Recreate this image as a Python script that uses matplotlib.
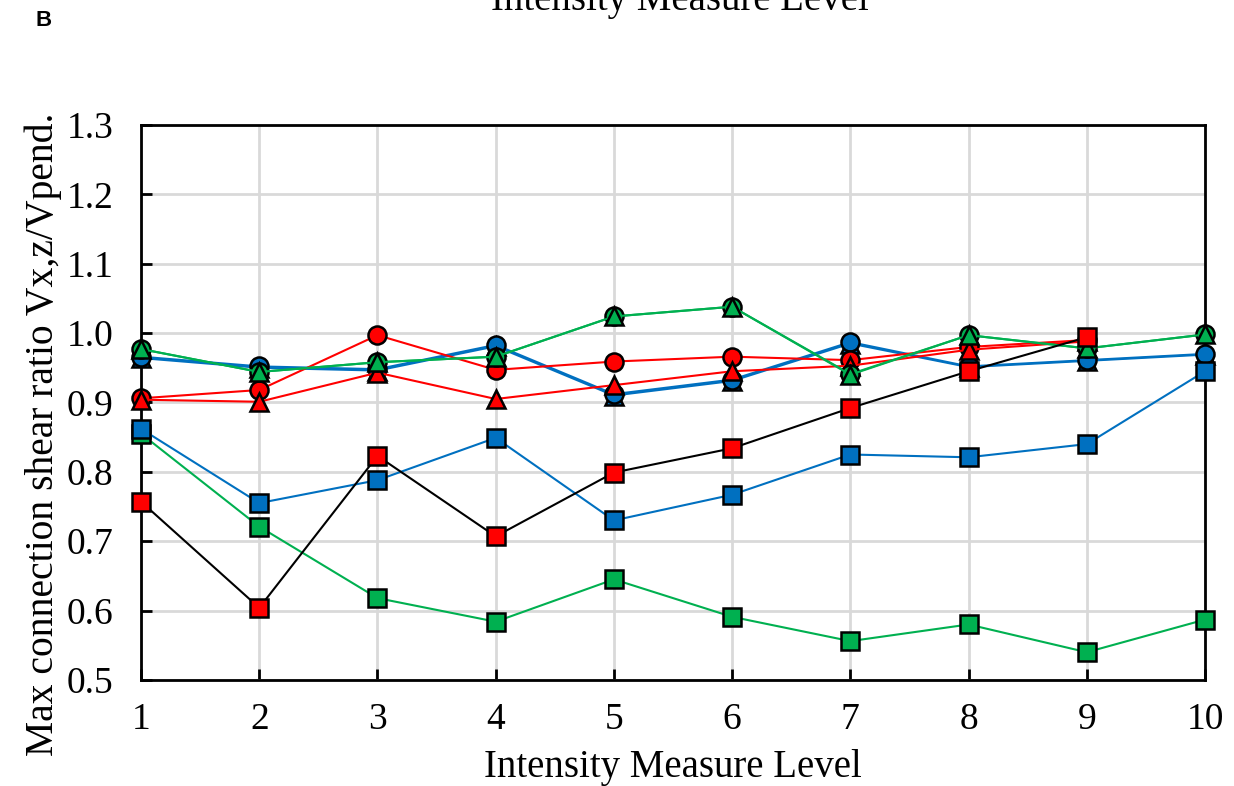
import numpy as np
import matplotlib.pyplot as plt

plt.rcParams["font.family"] = ["Liberation Serif", "DejaVu Serif"]

# intensity measure levels
levels = np.arange(1, 11)
levels_red = np.arange(1, 10)

# max connection shear ratio per series
blue_tri = [0.964, 0.950, 0.946, 0.981, 0.910, 0.931, 0.985, 0.951, 0.960, 0.969]
blue_circ = [0.966, 0.952, 0.948, 0.983, 0.912, 0.933, 0.987, 0.952, 0.961, 0.970]
red_circ = [0.906, 0.918, 0.997, 0.947, 0.959, 0.966, 0.961, 0.980, 0.990]
red_tri = [0.904, 0.901, 0.943, 0.905, 0.925, 0.945, 0.953, 0.976, 0.988]
green_circ = [0.977, 0.944, 0.958, 0.966, 1.024, 1.038, 0.941, 0.997, 0.978, 0.998]
green_tri = [0.977, 0.944, 0.958, 0.966, 1.024, 1.038, 0.940, 0.997, 0.978, 0.998]
green_sq = [0.855, 0.721, 0.618, 0.584, 0.645, 0.591, 0.556, 0.580, 0.540, 0.587]
blue_sq = [0.862, 0.755, 0.788, 0.849, 0.730, 0.767, 0.825, 0.821, 0.840, 0.945]
red_sq = [0.757, 0.604, 0.823, 0.707, 0.799, 0.834, 0.892, 0.945, 0.994]

BLUE = "#0070C0"
GREEN = "#00B050"
RED = "#FF0000"

fig = plt.figure(figsize=(12.34, 7.86), dpi=100)
ax = fig.add_axes([0.1143, 0.1349, 0.8622, 0.7061])

series = [
    (levels, blue_tri, BLUE, "^", BLUE),
    (levels, blue_circ, BLUE, "o", BLUE),
    (levels_red, red_circ, RED, "o", RED),
    (levels_red, red_tri, RED, "^", RED),
    (levels, green_circ, GREEN, "o", GREEN),
    (levels, green_tri, GREEN, "^", GREEN),
    (levels, green_sq, GREEN, "s", GREEN),
    (levels, blue_sq, BLUE, "s", BLUE),
    (levels_red, red_sq, "black", "s", RED),
]
for x, y, lc, mk, fc in series:
    ax.plot(x, y, color=lc, lw=1.5, marker=mk, ms=13, mfc=fc,
            mec="black", mew=1.8, clip_on=False, zorder=3)

ax.set_xlim(1, 10)
ax.set_ylim(0.5, 1.3)
ax.set_xticks(levels)
ax.set_yticks(np.arange(0.5, 1.31, 0.1))
ax.set_yticklabels([f"{v:.1f}" for v in np.arange(0.5, 1.31, 0.1)])
ax.grid(True, color="#D9D9D9", lw=2)
ax.set_axisbelow(True)
for s in ax.spines.values():
    s.set_linewidth(2)
ax.tick_params(direction="in", length=8, width=2, labelsize=27)
ax.tick_params(axis="y", pad=20)
ax.tick_params(axis="x", pad=16)

ax.set_xlabel("Intensity Measure Level", fontsize=28, labelpad=9)
ax.set_ylabel("Max connection shear ratio Vx,z/Vpend.", fontsize=28.5)
ax.yaxis.set_label_coords(-0.074, 0.443)

fig.text(0.551, 1 - 10 / 786, "Intensity Measure Level", fontsize=28,
         ha="center", va="baseline")
fig.text(0.029, 1 - 21 / 786, "B", fontsize=16, fontweight="bold",
         family="Liberation Sans", va="center")

fig.savefig("out.png", dpi=100)
